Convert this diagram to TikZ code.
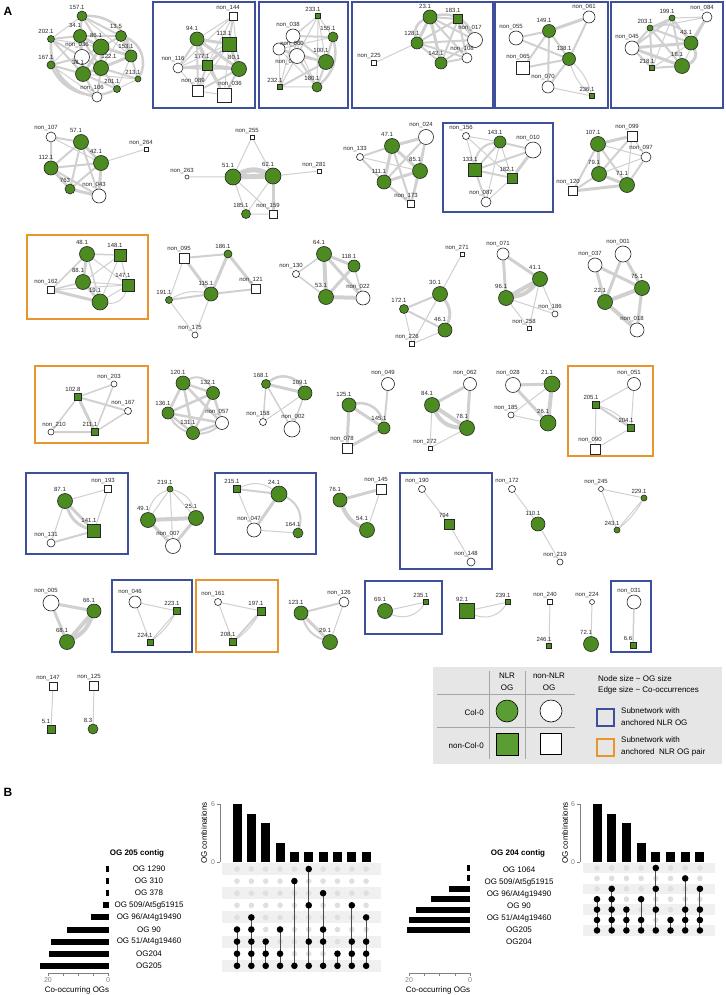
\documentclass[tikz,border=0pt]{standalone}
\usepackage{fontspec}
\setmainfont{Liberation Sans}
\usetikzlibrary{backgrounds}
\definecolor{oggreen}{HTML}{4B8B1F}
\definecolor{leggreen}{HTML}{5A9E33}
\definecolor{edgec}{HTML}{D0D0D0}
\definecolor{anchorblue}{HTML}{3E4F9C}
\definecolor{pairorange}{HTML}{E8952B}
\definecolor{legbg}{HTML}{E6E6E6}

\begin{document}
\begin{tikzpicture}[
    x=1pt, y=-1pt,
    nlr/.style={circle, draw=black!85, fill=oggreen, line width=0.6pt, inner sep=0pt, minimum size=#1pt},
    nlrsq/.style={rectangle, draw=black!85, fill=oggreen, line width=0.6pt, inner sep=0pt, minimum size=#1pt},
    oth/.style={circle, draw=black!85, fill=white, line width=0.6pt, inner sep=0pt, minimum size=#1pt},
    othsq/.style={rectangle, draw=black!85, fill=white, line width=0.6pt, inner sep=0pt, minimum size=#1pt},
    lnk/.style={draw=edgec, line width=#1pt},
    subnet/.style={draw=anchorblue, line width=1.4pt},
    pairnet/.style={draw=pairorange, line width=1.4pt},
    every label/.style={font=\fontsize{6}{6.5}\selectfont, text=black!85, inner sep=0.3pt, xshift=-5pt},
    label distance=1pt,
    panel/.style={font=\fontsize{12}{12}\selectfont\bfseries, inner sep=0pt},
    rowlab/.style={font=\fontsize{8}{9}\selectfont, inner sep=0pt},
    legtxt/.style={font=\fontsize{8}{12}\selectfont, inner sep=0pt},
    ticklab/.style={font=\fontsize{7}{8}\selectfont, text=gray, inner sep=0pt},
  ]
  \useasboundingbox (0,0) rectangle (725,995);

  \node[panel] (pA) at (8,11) {A};
  \node[panel] (pB) at (8,792) {B};

  % row 1
  \node[nlr=10, label=above:157.1] (g1571) at (82,16) {};
  \node[nlr=13, label=above:34.1] (g341) at (80,36) {};
  \node[nlr=16, label=above:86.1] (g861) at (101,47) {};
  \node[nlr=11, label=above:13.5] (g135) at (121,36) {};
  \node[nlr=12, label=above:153.1] (g1531) at (131,56) {};
  \node[nlr=7, label=above:202.1] (g2021) at (51,39) {};
  \node[oth=15, label=above:non\_036] (n036a) at (82,57) {};
  \node[nlr=8, label=above:167.1] (g1671) at (51,65) {};
  \node[nlr=15, label=above:38.1] (g381) at (83,74) {};
  \node[nlr=15, label={[xshift=13pt]above:122.1}] (g1221) at (101,68) {};
  \node[nlr=6, label=above:213.1] (g2131) at (138,79) {};
  \node[nlr=7, label=above:201.1] (g2011) at (117,89) {};
  \node[oth=10, label=above:non\_106] (n106) at (97,97) {};

  \node[othsq=8, label=above:non\_144] (n144) at (233,16) {};
  \node[nlr=14, label=above:94.1] (g941) at (197,39) {};
  \node[nlrsq=14, label=above:113.1] (g1131) at (229,44) {};
  \node[oth=10, label=above:non\_116] (n116) at (178,68) {};
  \node[nlrsq=10, label=above:177.1] (g1771) at (207,65) {};
  \node[nlr=15, label=above:80.1] (g801) at (239,69) {};
  \node[othsq=11, label=above:non\_089] (n089) at (198,91) {};
  \node[othsq=14, label={[xshift=11pt]above:non\_036}] (n036b) at (224,95) {};

  \node[nlrsq=5, label=above:233.1] (g2331) at (318,16) {};
  \node[oth=14, label=above:non\_038] (n038) at (293,36) {};
  \node[nlr=10, label=above:155.1] (g1551) at (333,37) {};
  \node[oth=12, label={[xshift=13pt, yshift=-3pt]below:non\_033}] (n033) at (279,49) {};
  \node[oth=15, label=above:non\_060] (n060) at (297,56) {};
  \node[nlr=15, label=above:100.1] (g1001) at (326,62) {};
  \node[nlrsq=5, label=above:232.1] (g2321) at (280,87) {};
  \node[nlr=10, label=above:180.1] (g1801) at (317,87) {};

  \node[nlr=14, label=above:23.1] (g231) at (430,17) {};
  \node[nlrsq=9, label=above:183.1] (g1831) at (458,19) {};
  \node[oth=15, label=above:non\_017] (n017) at (475,40) {};
  \node[nlr=12, label=above:128.1] (g1281) at (417,43) {};
  \node[oth=10, label=above:non\_108] (n108) at (467,58) {};
  \node[nlr=12, label=above:142.1] (g1421) at (441,63) {};
  \node[othsq=5, label=above:non\_225] (n225) at (374,63) {};

  \node[oth=12, label=above:non\_061] (n061) at (589,17) {};
  \node[nlr=13, label=above:149.1] (g1491) at (549,31) {};
  \node[oth=14, label=above:non\_055] (n055) at (516,38) {};
  \node[nlr=13, label=above:138.1] (g1381) at (569,59) {};
  \node[othsq=13, label=above:non\_065] (n065) at (523,68) {};
  \node[oth=12, label=above:non\_070] (n070) at (548,87) {};
  \node[nlrsq=5, label=above:236.1] (g2361) at (592,96) {};

  \node[nlr=6, label=above:199.1] (g1991) at (672,18) {};
  \node[oth=10, label=above:non\_084] (n084) at (707,17) {};
  \node[nlr=6, label=above:203.1] (g2031) at (650,28) {};
  \node[oth=14, label=above:non\_045] (n045) at (632,48) {};
  \node[nlr=14, label=above:43.1] (g431) at (691,43) {};
  \node[nlr=15, label=above:18.1] (g181) at (682,66) {};
  \node[nlrsq=5, label=above:218.1] (g2181) at (652,68) {};

  % row 2
  \node[oth=10, label=above:non\_107] (n107) at (51,137) {};
  \node[nlr=15, label=above:57.1] (g571) at (81,142) {};
  \node[nlr=15, label=above:42.1] (g421) at (101,163) {};
  \node[nlr=14, label=above:112.1] (g1121) at (51,168) {};
  \node[nlr=10, label=above:763] (g763) at (70,189) {};
  \node[oth=14, label=above:non\_043] (n043) at (99,196) {};
  \node[othsq=4, label=above:non\_264] (n264) at (146,149) {};

  \node[othsq=4, label=above:non\_255] (n255) at (252,137) {};
  \node[oth=4, label=above:non\_263] (n263) at (187,177) {};
  \node[nlr=16, label=above:51.1] (g511) at (233,177) {};
  \node[nlr=16, label=above:62.1] (g621) at (273,176) {};
  \node[othsq=4, label=above:non\_281] (n281) at (319,171) {};
  \node[nlr=9, label=above:185.1] (g1851) at (246,214) {};
  \node[othsq=8, label=above:non\_159] (n159) at (273,214) {};

  \node[oth=7, label=above:non\_133] (n133) at (360,157) {};
  \node[oth=15, label=above:non\_024] (n024) at (426,137) {};
  \node[nlr=15, label=above:47.1] (g471) at (392,146) {};
  \node[nlr=15, label=above:85.1] (g851) at (420,171) {};
  \node[nlr=14, label=above:111.1] (g1111) at (384,182) {};
  \node[othsq=7, label=above:non\_173] (n173) at (411,204) {};

  \node[oth=7, label=above:non\_156] (n156) at (466,136) {};
  \node[nlr=12, label=above:143.1] (g1431) at (500,142) {};
  \node[oth=16, label=above:non\_010] (n010) at (533,150) {};
  \node[nlrsq=13, label=above:133.1] (g1331) at (475,170) {};
  \node[nlrsq=10, label=above:182.1] (g1821) at (512,178) {};
  \node[oth=10, label=above:non\_087] (n087) at (486,202) {};

  \node[nlr=15, label=above:107.1] (g1071) at (598,144) {};
  \node[othsq=10, label=above:non\_099] (n099) at (632,136) {};
  \node[oth=10, label=above:non\_097] (n097) at (646,157) {};
  \node[nlr=15, label=above:79.1] (g791) at (599,174) {};
  \node[nlr=15, label=above:71.1] (g711) at (627,185) {};
  \node[othsq=9, label=above:non\_120] (n120) at (573,191) {};

  % row 3
  \node[nlr=15, label=above:48.1] (g481) at (87,254) {};
  \node[nlrsq=12, label=above:148.1] (g1481) at (120,255) {};
  \node[nlr=15, label=above:88.1] (g881) at (83,282) {};
  \node[othsq=7, label=above:non\_162] (n162) at (51,290) {};
  \node[nlrsq=12, label=above:147.1] (g1471) at (128,285) {};
  \node[nlr=16, label=above:19.1] (g191) at (100,302) {};

  \node[othsq=10, label=above:non\_095] (n095) at (184,258) {};
  \node[nlr=8, label=above:186.1] (g1861) at (228,254) {};
  \node[nlr=14, label=above:115.1] (g1151) at (211,294) {};
  \node[othsq=9, label=above:non\_121] (n121) at (256,289) {};
  \node[nlr=7, label=above:191.1] (g1911) at (169,300) {};
  \node[oth=6, label=above:non\_175] (n175) at (195,335) {};

  \node[nlr=15, label=above:64.1] (g641) at (324,254) {};
  \node[nlr=12, label=above:118.1] (g1181) at (354,266) {};
  \node[oth=7, label=above:non\_130] (n130) at (296,274) {};
  \node[nlr=15, label=above:53.1] (g531) at (326,297) {};
  \node[oth=14, label=above:non\_022] (n022) at (363,298) {};

  \node[othsq=4, label=above:non\_271] (n271) at (462,254) {};
  \node[nlr=15, label=above:30.1] (g301) at (440,294) {};
  \node[nlr=9, label=above:172.1] (g1721) at (404,309) {};
  \node[nlr=14, label=above:46.1] (g461) at (445,330) {};
  \node[othsq=5, label=above:non\_226] (n226) at (412,344) {};

  \node[oth=12, label=above:non\_071] (n071) at (503,254) {};
  \node[nlr=15, label=above:41.1] (g411) at (540,279) {};
  \node[nlr=15, label=above:96.1] (g961) at (506,298) {};
  \node[oth=6, label=above:non\_186] (n186) at (555,314) {};
  \node[othsq=4, label=above:non\_258] (n258) at (529,328) {};

  \node[oth=16, label=above:non\_001] (n001) at (623,254) {};
  \node[oth=14, label=above:non\_037] (n037) at (595,265) {};
  \node[nlr=15, label=above:75.1] (g751) at (642,288) {};
  \node[nlr=15, label=above:22.1] (g221) at (605,302) {};
  \node[oth=14, label=above:non\_018] (n018) at (637,330) {};

  % row 4
  \node[oth=6, label=above:non\_203] (n203) at (114,384) {};
  \node[nlrsq=7, label=above:102.8] (g1028) at (78,397) {};
  \node[oth=7, label=above:non\_167] (n167) at (128,411) {};
  \node[oth=6, label={[xshift=8pt]above:non\_210}] (n210) at (51,432) {};
  \node[nlrsq=7, label=above:211.1] (g2111) at (95,432) {};

  \node[nlr=14, label=above:120.1] (g1201) at (183,383) {};
  \node[nlr=13, label=above:132.1] (g1321) at (213,393) {};
  \node[nlr=12, label=above:136.1] (g1361) at (168,413) {};
  \node[oth=13, label=above:non\_057] (n057) at (222,423) {};
  \node[nlr=13, label=above:131.1] (g1311) at (193,433) {};

  \node[nlr=9, label=above:168.1] (g1681) at (266,384) {};
  \node[nlr=14, label=above:109.1] (g1091) at (305,393) {};
  \node[oth=7, label=above:non\_158] (n158) at (263,422) {};
  \node[oth=16, label={[xshift=6pt]above:non\_002}] (n002) at (292,429) {};

  \node[nlr=14, label=above:125.1] (g1251) at (349,405) {};
  \node[oth=13, label=above:non\_049] (n049) at (388,384) {};
  \node[nlr=12, label=above:145.1] (g1451) at (384,428) {};
  \node[othsq=10, label=above:non\_078] (n078) at (347,448) {};

  \node[oth=13, label=above:non\_062] (n062) at (470,384) {};
  \node[nlr=15, label=above:84.1] (g841) at (432,405) {};
  \node[nlr=15, label=above:78.1] (g781) at (467,428) {};
  \node[othsq=4, label=above:non\_272] (n272) at (430,448) {};

  \node[oth=15, label=above:non\_028] (n028) at (513,385) {};
  \node[nlr=16, label=above:21.1] (g211) at (552,384) {};
  \node[oth=6, label=above:non\_185] (n185) at (511,415) {};
  \node[nlr=16, label=above:26.1] (g261) at (548,423) {};

  \node[oth=13, label=above:non\_051] (n051) at (634,384) {};
  \node[nlrsq=7, label=above:205.1] (g2051) at (596,405) {};
  \node[nlrsq=7, label=above:204.1] (g2041) at (631,428) {};
  \node[othsq=10, label=above:non\_090] (n090) at (595,449) {};

  % row 5
  \node[nlr=15, label=above:87.1] (g871) at (65,501) {};
  \node[othsq=7, label=above:non\_193] (n193) at (108,489) {};
  \node[nlrsq=13, label=above:141.1] (g1411) at (94,531) {};
  \node[oth=8, label=above:non\_131] (n131) at (51,543) {};

  \node[nlr=6, label=above:219.1] (g2191) at (170,489) {};
  \node[nlr=15, label=above:49.1] (g491) at (148,520) {};
  \node[nlr=15, label=above:25.1] (g251) at (196,518) {};
  \node[oth=15, label=above:non\_007] (n007) at (173,546) {};

  \node[nlrsq=7, label=above:215.1] (g2151) at (237,489) {};
  \node[nlr=16, label=above:24.1] (g241) at (279,494) {};
  \node[oth=14, label=above:non\_047] (n047) at (254,530) {};
  \node[nlr=10, label=above:164.1] (g1641) at (298,533) {};

  \node[nlr=14, label=above:76.1] (g761) at (340,500) {};
  \node[othsq=10, label=above:non\_145] (n145) at (381,489) {};
  \node[nlr=15, label=above:54.1] (g541) at (367,530) {};

  \node[oth=7, label=above:non\_190] (n190) at (422,489) {};
  \node[nlrsq=10, label=above:794] (g794) at (449,524) {};
  \node[oth=8, label=above:non\_148] (n148) at (471,562) {};

  \node[oth=7, label=above:non\_172] (n172) at (512,489) {};
  \node[nlr=14, label=above:110.1] (g1101) at (538,524) {};
  \node[oth=6, label=above:non\_219] (n219) at (560,562) {};

  \node[oth=5, label=above:non\_245] (n245) at (601,489) {};
  \node[nlr=6, label=above:229.1] (g2291) at (644,498) {};
  \node[nlr=6, label=above:243.1] (g2431) at (617,530) {};

  % row 6
  \node[oth=16, label=above:non\_005] (n005) at (51,603) {};
  \node[nlr=14, label=above:66.1] (g661) at (94,611) {};
  \node[nlr=15, label=above:68.1] (g681) at (67,642) {};

  \node[oth=12, label=above:non\_046] (n046) at (135,602) {};
  \node[nlrsq=7, label=above:223.1] (g2231) at (177,611) {};
  \node[nlrsq=6, label=above:224.1] (g2241) at (150,642) {};

  \node[oth=7, label=above:non\_161] (n161) at (218,602) {};
  \node[nlrsq=8, label=above:197.1] (g1971) at (261,611) {};
  \node[nlrsq=7, label=above:208.1] (g2081) at (233,642) {};

  \node[nlr=14, label=above:123.1] (g1231) at (301,613) {};
  \node[oth=10, label=above:non\_126] (n126) at (344,602) {};
  \node[nlr=15, label=above:29.1] (g291) at (330,642) {};

  \node[nlr=15, label=above:69.1] (g691) at (385,611) {};
  \node[nlrsq=5, label=above:235.1] (g2351) at (426,602) {};

  \node[nlrsq=15, label=above:92.1] (g921) at (467,611) {};
  \node[nlrsq=5, label=above:239.1] (g2391) at (508,602) {};

  \node[othsq=5, label=above:non\_240] (n240) at (550,602) {};
  \node[nlrsq=5, label=above:246.1] (g2461) at (549,646) {};
  \node[oth=5, label=above:non\_224] (n224) at (592,602) {};
  \node[nlr=15, label=above:72.1] (g721) at (591,644) {};

  \node[oth=14, label=above:non\_031] (n031) at (634,602) {};
  \node[nlrsq=6, label=above:6.6] (g66) at (633,645) {};

  % row 7
  \node[othsq=8, label=above:non\_147] (n147) at (53,686) {};
  \node[nlrsq=8, label=above:5.1] (g51) at (51,729) {};
  \node[othsq=9, label=above:non\_125] (n125) at (94,686) {};
  \node[nlr=10, label=above:8.3] (g83) at (93,729) {};

  \begin{scope}[on background layer]
    % row 1 edges
    \draw[lnk=3] (g341)--(g381) (g341)--(g861) (g861)--(g1221) (g381)--(g1221) (g341)--(n036a)
      (n036a)--(g381) (g861)--(g1531) (g135)--(g1531) (g1221)--(g1531) (g861)--(g381);
    \draw[lnk=2] (g1571)--(g341) (g1571)--(g861) (g2021)--(g341) (g2021)--(g1671) (g1671)--(g381)
      (g1671)--(n036a) (g2021)--(n036a) (g341)--(g1221) (g135)--(g861) (g1221)--(g2131)
      (g1531)--(g2131) (g381)--(g2011) (g1221)--(g2011) (n106)--(g381) (n106)--(g1221)
      (g135)--(g341) (g1571)--(g135) (g2021)--(g381) (n036a)--(g861) (n036a)--(g1221);
    \draw[lnk=1] (g1571)--(g2021) (g1571)--(g1531) (g135)--(g1221) (g1531)--(g2011) (g2131)--(g2011)
      (n106)--(g2011) (g2131)--(g381) (g1671)--(n106) (g1671)--(g341) (g2021)--(g861);
    \draw[lnk=2.5] (g1671) to[bend right=45] (g2011) (g1571) to[bend left=40] (g1531)
      (g2021) to[bend right=40] (n106) (g135) to[bend left=50] (g2131);

    \draw[lnk=3] (g941)--(g1131) (g941)--(g1771) (g1131)--(g801) (g1771)--(g801) (g941)--(g801) (g1131)--(g1771);
    \draw[lnk=2] (g941)--(n116) (n116)--(g1771) (g1771)--(n089) (g1771)--(n036b) (g801)--(n036b)
      (g941)--(n089) (n089)--(g801) (n116)--(g801) (n144)--(g1131) (g941)--(n036b);
    \draw[lnk=1] (n144)--(g941) (n144)--(g801) (n144)--(g1771) (n144)--(n116) (n116)--(n089)
      (n089)--(n036b) (g1131)--(n089) (g1131)--(n036b) (n116)--(g1131);

    \draw[lnk=2] (n038)--(g1551) (n038)--(n060) (n060)--(g1001) (g1551)--(g1001) (n033)--(n060)
      (n038)--(g1001) (n033)--(g1001) (g1801)--(g1001) (n060)--(g1801) (g2321)--(g1001);
    \draw[lnk=1] (g2331)--(n038) (g2331)--(g1551) (g2331)--(n060) (g2331)--(g1001) (g2331)--(n033)
      (g2331)--(g2321) (g2331)--(g1801) (g2321)--(g1801) (g2321)--(n060) (g2321)--(n033)
      (g2321)--(n038) (n033)--(g1801) (g1551)--(g1801) (n038)--(g1801) (n033)--(g1551);
    \draw[lnk=2.5] (g1551) to[bend left=30] (g1801);

    \draw[lnk=3] (g231)--(g1281) (g231)--(g1421);
    \draw[lnk=2] (g231)--(g1831) (g231)--(n017) (g1281)--(g1421) (g1281)--(n017) (g1831)--(g1281)
      (g1831)--(n017) (g1421)--(n108) (g1421)--(n017) (g1281)--(n108) (g231)--(n108)
      (g1831)--(g1421) (g1831)--(n108);
    \draw[lnk=2.5] (g1281) to[bend left=40] (g231) (g231) to[bend left=40] (n017);
    \draw[lnk=1] (g1281)--(n225);

    \draw[lnk=3] (g1491)--(n061);
    \draw[lnk=2] (n055)--(g1491) (n055)--(g1381) (g1491)--(g1381) (g1491)--(n065) (g1491)--(n070)
      (n065)--(g1381) (n061)--(g1381) (n070)--(g1381);
    \draw[lnk=1] (g1381) to[bend left=15] (g2361) (g1381) to[bend right=15] (g2361) (n070)--(g2361);

    \draw[lnk=3] (n084)--(g431) (n045)--(g181) (n045)--(g431) (g431) to[bend left=50] (g181);
    \draw[lnk=2] (g2031)--(g1991) (g2031)--(n045) (g2031)--(g431) (g2031)--(g181) (g1991)--(g431)
      (g1991)--(g181) (n045)--(g2181) (g2181)--(g181) (g2031)--(g2181) (g1991)--(n045);
    \draw[lnk=1] (g1991)--(n084) (n084)--(g181) (g2181)--(g431) (g1991)--(g2181) (g2031)--(n084);
    \draw[lnk=2] (g2031) to[bend left=40] (g431);

    % row 2 edges
    \draw[lnk=3] (g571)--(g421) (g421)--(n043) (g1121)--(g763) (g763)--(n043);
    \draw[lnk=2] (n107)--(g571) (n107)--(g1121) (g571)--(g1121) (g571)--(g763) (g571)--(n043)
      (g421)--(g1121) (g421)--(g763) (g1121)--(n043);
    \draw[lnk=1] (n107)--(g421) (g421)--(n264);

    \draw[lnk=5] (g511) to[bend left=25] (g621) (g511)--(g621);
    \draw[lnk=3] (g621)--(n159);
    \draw[lnk=1] (n255)--(g511) (n255)--(g621) (n263)--(g511) (g621)--(n281) (g511)--(g1851)
      (g511)--(n159) (g621)--(g1851) (g1851)--(n159);

    \draw[lnk=3] (g471)--(n024) (g471)--(g851) (g471)--(g1111) (g1111)--(g851);
    \draw[lnk=2] (g851)--(n024) (n133)--(g471) (n133)--(g1111) (g1111)--(n024) (g1111)--(n173)
      (g851)--(n173) (n173)--(g471) (n024)--(n173);
    \draw[lnk=1] (n133)--(g851);

    \draw[lnk=3] (g1821)--(n010);
    \draw[lnk=2] (g1431)--(n010) (g1431)--(g1331) (g1331)--(g1821) (g1331)--(n087) (g1331)--(n010);
    \draw[lnk=1] (n156)--(g1431) (n156)--(g1331) (n156)--(g1821) (g1431)--(g1821) (g1821)--(n087)
      (g1431)--(n087);
    \draw[lnk=2] (g1331) to[bend left=40] (g1431);

    \draw[lnk=3] (g1071)--(n099) (g1071)--(g791) (g791)--(g711) (g711)--(n120);
    \draw[lnk=2] (g1071)--(g711) (g711)--(n097) (g791)--(n120) (g1071)--(n120) (g791)--(n099);
    \draw[lnk=1] (g1071)--(n097) (n099)--(n097) (n099)--(g711) (g791)--(n097);

    % row 3 edges
    \draw[lnk=3] (g481)--(g881) (g881)--(g191) (n162)--(g191);
    \draw[lnk=1.5] (g481)--(g1481) (g481)--(g191) (n162)--(g481) (n162)--(g881);
    \draw[lnk=1] (g481)--(g1471) (g1481)--(g881) (g1481)--(g1471) (g1481)--(g191) (g881)--(g1471)
      (g1471)--(g191) (n162)--(g1471);
    \draw[lnk=1] (g191) to[bend right=40] (g1471);

    \draw[lnk=3] (n095)--(g1151) (g1861)--(g1151) (g1861)--(n121);
    \draw[lnk=2] (n095)--(g1861) (g1151)--(n121) (g1911)--(g1151);
    \draw[lnk=1] (n095)--(g1911) (g1911)--(n175) (g1151)--(n175) (g1911) to[bend left=20] (g1151);

    \draw[lnk=4] (g641)--(g531) (g531)--(n022);
    \draw[lnk=3] (g641)--(g1181) (g641)--(n022) (g1181)--(g531);
    \draw[lnk=1.5] (n130)--(g641) (n130)--(g531) (g1181)--(n022);

    \draw[lnk=3] (g301) to[bend left=30] (g461);
    \draw[lnk=2] (g1721)--(g461) (g1721)--(g301);
    \draw[lnk=1] (n271)--(g301) (g1721)--(n226) (g301)--(n226) (g461)--(n226);

    \draw[lnk=4] (g411)--(g961) (g411) to[bend left=20] (g961);
    \draw[lnk=3] (n071)--(g411) (n071)--(g961);
    \draw[lnk=1] (g411)--(n186) (g411)--(n258) (g961)--(n186) (g961)--(n258);

    \draw[lnk=4] (g751)--(g221) (g221)--(n018);
    \draw[lnk=3] (n001)--(g751) (n001)--(g221) (n037)--(g751) (n037)--(g221) (g751)--(n018);

    % row 4 edges
    \draw[lnk=3] (g1028)--(g2111);
    \draw[lnk=2] (g1028)--(n167) (n210)--(g2111);
    \draw[lnk=1.5] (g1028)--(n203) (g1028)--(n210) (n203)--(g2111) (n167)--(g2111);

    \draw[lnk=2.5] (g1201)--(g1321) (g1201)--(g1361) (g1201)--(g1311) (g1321)--(g1361) (g1321)--(g1311)
      (g1361)--(g1311) (g1311)--(n057) (g1321)--(n057) (g1201)--(n057) (g1361)--(n057);
    \draw[lnk=2] (g1361) to[bend right=50] (n057) (g1201) to[bend left=50] (g1321);

    \draw[lnk=3] (g1681)--(g1091);
    \draw[lnk=1.5] (g1681)--(n158) (g1681)--(n002) (g1091)--(n002);
    \draw[lnk=1] (g1091)--(n158);
    \draw[lnk=2.5] (g1681) to[bend left=50] (g1091);

    \draw[lnk=3] (g1251)--(g1451) (g1251)--(n078) (g1451)--(n078);
    \draw[lnk=2] (n049)--(g1451);
    \draw[lnk=2.5] (g1251) to[bend left=45] (g1451);

    \draw[lnk=4] (g841)--(g781) (g841) to[bend right=30] (g781);
    \draw[lnk=3] (n062)--(g841) (n062)--(g781);
    \draw[lnk=1] (g841)--(n272) (g781)--(n272);

    \draw[lnk=4] (g211)--(g261);
    \draw[lnk=3] (n028)--(g211) (n028)--(g261) (n028)--(g261);
    \draw[lnk=1] (n185)--(g261) (n185)--(g211);

    \draw[lnk=2] (g2051)--(g2041);
    \draw[lnk=1] (n051)--(g2051) (n051)--(g2041) (g2051)--(n090) (g2041)--(n090) (g2051) to[bend left=15] (g2041);

    % row 5 edges
    \draw[lnk=3] (g871)--(g1411) (g871) to[bend right=25] (g1411);
    \draw[lnk=2] (n131)--(g1411);
    \draw[lnk=1] (g871)--(n193) (n193)--(g1411) (g871)--(n131);

    \draw[lnk=4] (g491)--(g251);
    \draw[lnk=3] (g491)--(n007) (g251)--(n007);
    \draw[lnk=1] (g2191)--(g491) (g2191)--(g251) (g2191)--(n007) (g2191) to[bend left=30] (g251)
      (g2191) to[bend right=30] (g491);

    \draw[lnk=3] (g241)--(n047);
    \draw[lnk=2] (g2151)--(g241) (g241) to[bend left=40] (g1641);
    \draw[lnk=1] (g2151)--(n047) (n047)--(g1641) (g2151) to[bend left=30] (g241);

    \draw[lnk=4] (g761) to[bend right=20] (g541);
    \draw[lnk=3] (g761)--(n145);
    \draw[lnk=1] (n145)--(g541);

    \draw[lnk=1] (n190)--(g794) (g794)--(n148);
    \draw[lnk=1] (n172)--(g1101) (g1101)--(n219);
    \draw[lnk=1] (n245)--(g2291) (n245)--(g2431) (g2291)--(g2431) (g2291) to[bend left=10] (g2431);

    % row 6 and 7 edges
    \draw[lnk=4] (g661)--(g681) (g661) to[bend left=20] (g681);
    \draw[lnk=3] (n005)--(g661) (n005)--(g681);
    \draw[lnk=1] (n046)--(g2231) (n046)--(g2241) (g2231)--(g2241) (g2231) to[bend left=10] (g2241);
    \draw[lnk=2] (g1971)--(g2081);
    \draw[lnk=1] (n161)--(g1971) (n161)--(g2081) (g1971) to[bend left=10] (g2081);
    \draw[lnk=3] (g1231)--(g291);
    \draw[lnk=2] (g1231)--(n126) (g1231) to[bend right=25] (g291);
    \draw[lnk=1] (n126)--(g291);
    \draw[lnk=1] (g691)--(g2351) (g691) to[bend right=40] (g2351);
    \draw[lnk=1] (g921)--(g2391) (g921) to[bend right=40] (g2391);
    \draw[lnk=1] (n240)--(g2461) (n224)--(g721);
    \draw[lnk=1.5] (n031)--(g66);
    \draw[lnk=1] (n147)--(g51) (n125)--(g83);
  \end{scope}

  % anchored subnetworks
  \draw[subnet] (153,2) rectangle (255,108);
  \draw[subnet] (259,2) rectangle (348,108);
  \draw[subnet] (352,2) rectangle (493,108);
  \draw[subnet] (495,2) rectangle (608,108);
  \draw[subnet] (611,2) rectangle (723,108);
  \draw[subnet] (443,123) rectangle (553,212);
  \draw[pairnet] (27,235) rectangle (148,319);
  \draw[pairnet] (35,366) rectangle (148,443);
  \draw[pairnet] (568,366) rectangle (653,456);
  \draw[subnet] (26,473) rectangle (128,554);
  \draw[subnet] (215,473) rectangle (316,554);
  \draw[subnet] (400,473) rectangle (492,569);
  \draw[subnet] (112,580) rectangle (192,652);
  \draw[pairnet] (196,580) rectangle (278,652);
  \draw[subnet] (365,581) rectangle (442,634);
  \draw[subnet] (611,581) rectangle (651,652);

  % legend
  \fill[legbg] (433,667) rectangle (722,764);
  \draw[gray!70, line width=0.6pt] (489,671) -- (489,759) (525,671) -- (525,759)
    (437,694) -- (575,694) (437,727) -- (575,727);
  \node[legtxt, align=center] (hnlr) at (507,682) {NLR\\OG};
  \node[legtxt, align=center] (hnon) at (549,682) {non-NLR\\OG};
  \node[legtxt, anchor=east] (hcol) at (484,713) {Col-0};
  \node[legtxt, anchor=east] (hnoncol) at (484,746) {non-Col-0};
  \node[circle, draw=black, fill=leggreen, line width=0.6pt, minimum size=22pt, inner sep=0pt] (kcol) at (507,711) {};
  \node[circle, draw=black, fill=white, line width=0.6pt, minimum size=22pt, inner sep=0pt] (koth) at (551,711) {};
  \node[rectangle, draw=black, fill=leggreen, line width=0.6pt, minimum size=22pt, inner sep=0pt] (ksq) at (507,744) {};
  \node[rectangle, draw=black, fill=white, line width=0.6pt, minimum size=21pt, inner sep=0pt] (kothsq) at (551,744) {};
  \node[legtxt, anchor=west] (ksize) at (598,679) {Node size \textasciitilde{} OG size};
  \node[legtxt, anchor=west] (kedge) at (598,690) {Edge size \textasciitilde{} Co-occurrences};
  \draw[subnet] (597,709) rectangle (614,726);
  \node[legtxt, anchor=west, align=left] (kblue) at (621,717) {Subnetwork with\\anchored NLR OG};
  \draw[pairnet] (597,739) rectangle (614,756);
  \node[legtxt, anchor=west, align=left] (korange) at (621,746) {Subnetwork with\\anchored~ NLR OG pair};

  % B: OG 205 contig
  \node[rowlab, font=\fontsize{8}{9}\selectfont\bfseries] (t205) at (137,853) {OG 205 contig};
  \foreach \r in {1,3,5,7,9}
    \fill[gray!12] (222,{869+12.1*(\r-1)-6}) rectangle (381,{869+12.1*(\r-1)+6});
  \foreach \r/\lbl/\v in {1/{OG 1290}/1, 2/{OG 310}/1, 3/{OG 378}/1, 4/{OG 509/At5g51915}/2,
      5/{OG 96/At4g19490}/6, 6/{OG 90}/14, 7/{OG 51/At4g19460}/19.5, 8/{OG204}/20, 9/{OG205}/23}{
    \node[rowlab] (ra-\r) at (149,{869+12.1*(\r-1)}) {\lbl};
    \fill (109,{869+12.1*(\r-1)-3}) rectangle ({109-3*\v},{869+12.1*(\r-1)+3});
    \foreach \c in {1,...,10}
      \fill[gray!25] ({237+14.35*(\c-1)},{869+12.1*(\r-1)}) circle (2.8pt);
  }
  \foreach \c/\a/\b/\rs in {1/6/9/{6,7,8,9}, 2/5/9/{5,6,7,8,9}, 3/7/9/{7,8,9}, 4/6/9/{6,8,9},
      5/2/9/{2,9}, 6/1/9/{1,4,7,9}, 7/3/9/{3,6,7,9}, 8/8/9/{8,9}, 9/4/9/{4,7,8,9}, 10/5/9/{5,7,8,9}}{
    \draw[black!70, line width=0.9pt] ({237+14.35*(\c-1)},{869+12.1*(\a-1)}) -- ({237+14.35*(\c-1)},{869+12.1*(\b-1)});
    \foreach \r in \rs
      \fill ({237+14.35*(\c-1)},{869+12.1*(\r-1)}) circle (3.3pt);
  }
  \foreach \c/\v in {1/6, 2/5, 3/4, 4/2, 5/1, 6/1, 7/1, 8/1, 9/1, 10/1}
    \fill ({237+14.35*(\c-1)-4.5},862) rectangle ({237+14.35*(\c-1)+4.5},{862-9.7*\v});
  \draw[gray, line width=0.5pt] (220,804) -- (220,862) (217,804) -- (220,804) (217,862) -- (220,862);
  \node[ticklab] (ta6) at (213,804) {6};
  \node[ticklab] (ta0) at (213,862) {0};
  \node[rowlab, rotate=90] (ya) at (204,833) {OG combinations};
  \draw[gray, line width=0.5pt] (48,973) -- (108,973);
  \foreach \t in {48,63,78,93,108}
    \draw[gray, line width=0.5pt] (\t,973) -- (\t,975.5);
  \node[ticklab] (xa20) at (48,980) {20};
  \node[ticklab] (xa0) at (108,980) {0};
  \node[rowlab] (xa) at (77,990) {Co-occurring OGs};

  % B: OG 204 contig
  \node[rowlab, font=\fontsize{8}{9}\selectfont\bfseries] (t204) at (518,853) {OG 204 contig};
  \foreach \r in {1,3,5,7}
    \fill[gray!12] (583,{868+10.4*(\r-1)-5.2}) rectangle (715,{868+10.4*(\r-1)+5.2});
  \foreach \r/\lbl/\v in {1/{OG 1064}/1, 2/{OG 509/At5g51915}/1, 3/{OG 96/At4g19490}/7,
      4/{OG 90}/13, 5/{OG 51/At4g19460}/18, 6/{OG205}/20.5, 7/{OG204}/21}{
    \node[rowlab] (rb-\r) at (519,{870+12*(\r-1)}) {\lbl};
    \fill (470,{868+10.4*(\r-1)-3}) rectangle ({470-3*\v},{868+10.4*(\r-1)+3});
    \foreach \c in {1,...,8}
      \fill[gray!25] ({597+14.7*(\c-1)},{868+10.4*(\r-1)}) circle (2.8pt);
  }
  \foreach \c/\a/\b/\rs in {1/4/7/{4,5,6,7}, 2/3/7/{3,4,5,6,7}, 3/5/7/{5,6,7}, 4/4/7/{4,6,7},
      5/1/7/{1,3,5,7}, 6/6/7/{6,7}, 7/2/7/{2,5,6,7}, 8/3/7/{3,5,6,7}}{
    \draw[black!70, line width=0.9pt] ({597+14.7*(\c-1)},{868+10.4*(\a-1)}) -- ({597+14.7*(\c-1)},{868+10.4*(\b-1)});
    \foreach \r in \rs
      \fill ({597+14.7*(\c-1)},{868+10.4*(\r-1)}) circle (3.3pt);
  }
  \foreach \c/\v in {1/6, 2/5, 3/4, 4/2, 5/1, 6/1, 7/1, 8/1}
    \fill ({597+14.7*(\c-1)-4.5},862) rectangle ({597+14.7*(\c-1)+4.5},{862-9.7*\v});
  \draw[gray, line width=0.5pt] (580,804) -- (580,862) (577,804) -- (580,804) (577,862) -- (580,862);
  \node[ticklab] (tb6) at (573,804) {6};
  \node[ticklab] (tb0) at (573,862) {0};
  \node[rowlab, rotate=90] (yb) at (565,833) {OG combinations};
  \draw[gray, line width=0.5pt] (409,973) -- (470,973);
  \foreach \t in {409,424.25,439.5,454.75,470}
    \draw[gray, line width=0.5pt] (\t,973) -- (\t,975.5);
  \node[ticklab] (xb20) at (409,980) {20};
  \node[ticklab] (xb0) at (470,980) {0};
  \node[rowlab] (xb) at (438,990) {Co-occurring OGs};
\end{tikzpicture}
\end{document}
